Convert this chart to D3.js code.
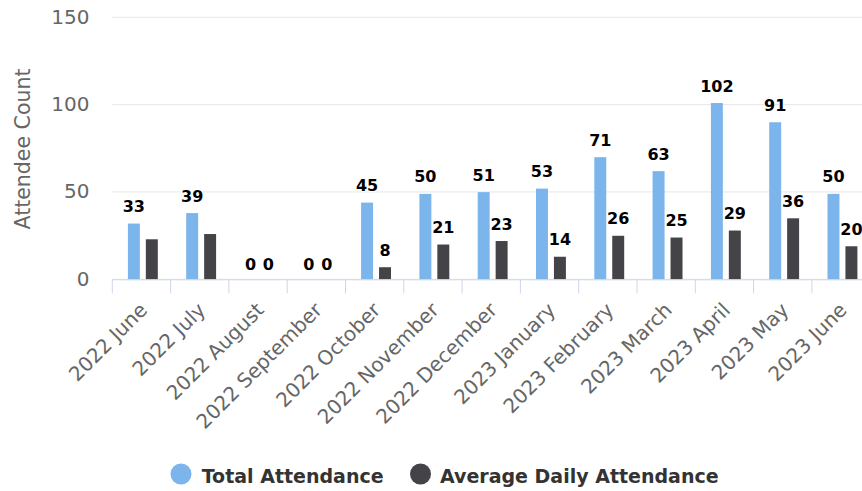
<!DOCTYPE html>
<html>
<head>
<meta charset="utf-8">
<script src="https://cdnjs.cloudflare.com/ajax/libs/d3/7.8.5/d3.min.js"></script>
<style>
  html, body { margin: 0; padding: 0; background: #fff; }
  svg { display: block; font-family: "DejaVu Sans", Verdana, sans-serif; }
</style>
</head>
<body>
<svg id="chart" width="862" height="491"></svg>
<script>
const categories = ["2022 June", "2022 July", "2022 August", "2022 September", "2022 October",
  "2022 November", "2022 December", "2023 January", "2023 February", "2023 March",
  "2023 April", "2023 May", "2023 June"];
const totalAttendance = [33, 39, 0, 0, 45, 50, 51, 53, 71, 63, 102, 91, 50];
const avgDailyAttendance = [24, 27, 0, 0, 8, 21, 23, 14, 26, 25, 29, 36, 20];
// labels shown for the average series (June/July labels hidden in the original)
const avgLabelShown = [false, false, true, true, true, true, true, true, true, true, true, true, true];
const seriesNames = ["Total Attendance", "Average Daily Attendance"];
const seriesColors = ["#7cb5ec", "#434348"];
const yTicks = [0, 50, 100, 150];

const svg = d3.select("#chart");
const plotLeft = 112.3, plotRight = 870.2, plotTop = 17.3, plotBottom = 279.3;

const x = d3.scaleBand().domain(categories).range([plotLeft, plotRight]).padding(0);
const x1 = d3.scaleBand().domain(seriesNames).range([15.6, 45.5]).paddingInner(1/3).paddingOuter(0);
const y = d3.scaleLinear().domain([0, 150]).range([plotBottom, plotTop]);

// gridlines
svg.append("g").selectAll("line").data(yTicks).join("line")
  .attr("x1", plotLeft).attr("x2", 862)
  .attr("y1", d => y(d)).attr("y2", d => y(d))
  .attr("stroke", "#e6e6e6").attr("stroke-width", 1);

// y labels
svg.append("g").selectAll("text").data(yTicks).join("text")
  .attr("x", 89.5).attr("y", d => y(d) + 6.5)
  .attr("text-anchor", "end")
  .attr("font-size", 20).attr("fill", "#666")
  .text(d => d);

// y title
svg.append("text")
  .attr("transform", "translate(29.5,149) rotate(-90)")
  .attr("text-anchor", "middle")
  .attr("font-size", 20.5).attr("fill", "#666")
  .text("Attendee Count");

// bars
const data = categories.map((c, i) => ({
  cat: c,
  vals: [
    { s: seriesNames[0], v: totalAttendance[i], show: true, color: seriesColors[0] },
    { s: seriesNames[1], v: avgDailyAttendance[i], show: avgLabelShown[i], color: seriesColors[1] }
  ]
}));

const groups = svg.append("g").selectAll("g").data(data).join("g")
  .attr("transform", d => `translate(${x(d.cat)},0)`);

const barShift = 1.9;
groups.selectAll("rect").data(d => d.vals).join("rect")
  .attr("x", d => x1(d.s))
  .attr("width", x1.bandwidth())
  .attr("y", d => Math.min(y(d.v) + barShift, plotBottom))
  .attr("height", d => Math.max(0, plotBottom - (y(d.v) + barShift)))
  .attr("fill", d => d.color);

// data labels
groups.selectAll("text").data(d => d.vals.filter(v => v.show)).join("text")
  .attr("x", d => x1(d.s) + x1.bandwidth() / 2)
  .attr("y", d => y(d.v) + barShift - 11.5)
  .attr("text-anchor", "middle")
  .attr("font-size", 16).attr("font-weight", "bold")
  .attr("fill", "#000")
  .attr("stroke", "#fff").attr("stroke-width", 2).attr("paint-order", "stroke")
  .text(d => d.v);

// x axis line
svg.append("line")
  .attr("x1", plotLeft).attr("x2", 862)
  .attr("y1", plotBottom + 0.5).attr("y2", plotBottom + 0.5)
  .attr("stroke", "#ccd6eb");

// ticks at band boundaries
const tickPos = categories.map(c => x(c)).concat([plotRight]);
svg.append("g").selectAll("line").data(tickPos).join("line")
  .attr("x1", d => d).attr("x2", d => d)
  .attr("y1", plotBottom).attr("y2", plotBottom + 14)
  .attr("stroke", "#ccd6eb");

// x labels
svg.append("g").selectAll("text").data(categories).join("text")
  .attr("transform", d => `translate(${x(d) + x.bandwidth() / 2 + 7},${plotBottom + 32}) rotate(-45)`)
  .attr("text-anchor", "end")
  .attr("font-size", 20).attr("fill", "#666")
  .text(d => d);

// legend
const legend = [
  { name: seriesNames[0], color: seriesColors[0], cx: 181, tx: 201.7 },
  { name: seriesNames[1], color: seriesColors[1], cx: 420.5, tx: 440 }
];
const lg = svg.append("g");
lg.selectAll("circle").data(legend).join("circle")
  .attr("cx", d => d.cx).attr("cy", 474).attr("r", 10.5)
  .attr("fill", d => d.color);
lg.selectAll("text").data(legend).join("text")
  .attr("x", d => d.tx).attr("y", 483.3)
  .attr("font-size", 19).attr("font-weight", "bold").attr("fill", "#333")
  .text(d => d.name);
</script>
</body>
</html>
